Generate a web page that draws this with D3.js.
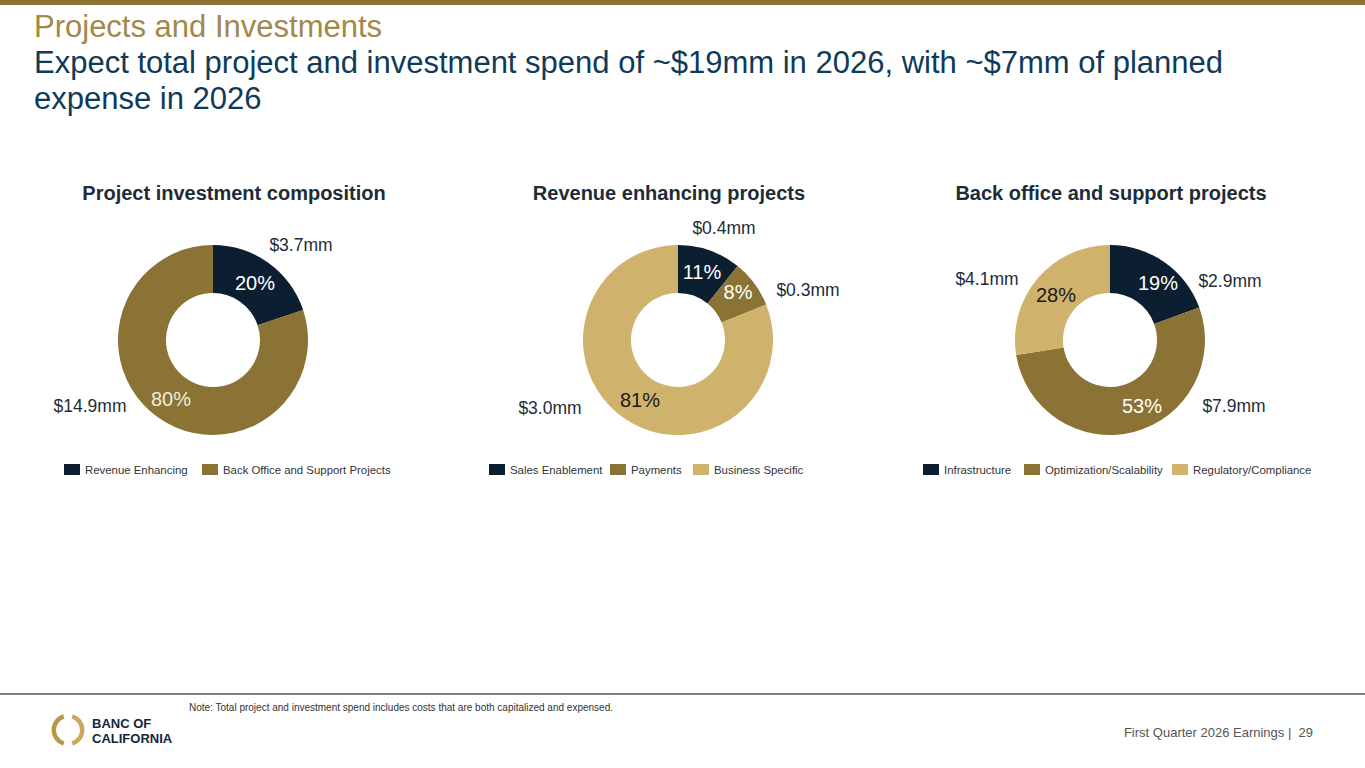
<!DOCTYPE html>
<html>
<head>
<meta charset="utf-8">
<script src="https://cdn.jsdelivr.net/npm/d3@7"></script>
<style>
  body { margin: 0; background: #fff; }
  svg { display: block; font-family: "Liberation Sans", Arial, sans-serif; }
</style>
</head>
<body>
<div class="canvas"></div>
<script>
// chart 1 - overall composition
const compCategories = ['Revenue Enhancing', 'Back Office and Support Projects'];
const compValues = [3.7, 14.9];
const compPct = ['20%', '80%'];

// chart 2 - revenue enhancing
const revCategories = ['Sales Enablement', 'Payments', 'Business Specific'];
const revValues = [0.4, 0.3, 3.0];
const revPct = ['11%', '8%', '81%'];

// chart 3 - back office
const boCategories = ['Infrastructure', 'Optimization/Scalability', 'Regulatory/Compliance'];
const boValues = [2.9, 7.9, 4.1];
const boPct = ['19%', '53%', '28%'];

const navy = '#0b1f30', olive = '#8b7335', tan = '#cfb36d';

const svg = d3.select('.canvas')
    .append('svg')
    .attr('width', 1365)
    .attr('height', 768);

// top bar
svg.append('rect').attr('x', 0).attr('y', 0).attr('width', 1365).attr('height', 5).attr('fill', olive);

svg.append('text').attr('x', 34).attr('y', 37)
    .attr('fill', '#a1884b').style('font-size', '31px')
    .text('Projects and Investments');
svg.append('text').attr('x', 34).attr('y', 73)
    .attr('fill', '#0f3a58').style('font-size', '31px')
    .text('Expect total project and investment spend of ~$19mm in 2026, with ~$7mm of planned');
svg.append('text').attr('x', 34).attr('y', 109)
    .attr('fill', '#0f3a58').style('font-size', '31px')
    .text('expense in 2026');

// one config per donut: center, colors, label positions relative to center
const charts = [
  {
    title: 'Project investment composition', titleX: 234, cx: 213,
    cats: compCategories, vals: compValues, pct: compPct,
    colors: [navy, olive],
    pctColor: ['#fff', '#f3ecda'],
    // label offsets (value labels outside, pct inside)
    valPos: [[88, -95], [-123, 66]],
    pctPos: [[42, -57], [-42, 59]],
    legend: [64, 202]
  },
  {
    title: 'Revenue enhancing projects', titleX: 669, cx: 678,
    cats: revCategories, vals: revValues, pct: revPct,
    colors: [navy, olive, tan],
    pctColor: ['#fff', '#fff', '#1a1a1a'],
    valPos: [[46, -112], [130, -50], [-128, 68]],
    pctPos: [[24, -68], [60, -48], [-38, 60]],
    legend: [489, 610, 693]
  },
  {
    title: 'Back office and support projects', titleX: 1111, cx: 1110,
    cats: boCategories, vals: boValues, pct: boPct,
    colors: [navy, olive, tan],
    pctColor: ['#fff', '#fff', '#1a1a1a'],
    valPos: [[120, -59], [124, 66], [-123, -61]],
    pctPos: [[48, -57], [32, 66], [-54, -45]],
    legend: [923, 1024, 1172]
  }
];

const cy = 340, outerR = 95, innerR = 47;

const pie = d3.pie().sort(null).value(d => d);
const arc = d3.arc().innerRadius(innerR).outerRadius(outerR);

charts.forEach(c => {
  svg.append('text')
      .attr('x', c.titleX).attr('y', 200)
      .attr('text-anchor', 'middle')
      .attr('fill', '#1e2c38')
      .style('font-size', '20px').style('font-weight', 'bold')
      .text(c.title);

  const g = svg.append('g').attr('transform', `translate(${c.cx},${cy})`);

  g.selectAll('path')
      .data(pie(c.vals))
      .enter().append('path')
      .attr('d', arc)
      .attr('fill', (d, i) => c.colors[i]);

  g.selectAll('.pct')
      .data(c.pct)
      .enter().append('text')
      .attr('class', 'pct')
      .attr('x', (d, i) => c.pctPos[i][0])
      .attr('y', (d, i) => c.pctPos[i][1])
      .attr('dy', '0.35em')
      .attr('text-anchor', 'middle')
      .attr('fill', (d, i) => c.pctColor[i])
      .style('font-size', '20px')
      .text(d => d);

  g.selectAll('.val')
      .data(c.vals)
      .enter().append('text')
      .attr('class', 'val')
      .attr('x', (d, i) => c.valPos[i][0])
      .attr('y', (d, i) => c.valPos[i][1])
      .attr('dy', '0.35em')
      .attr('text-anchor', 'middle')
      .attr('fill', '#1e2c38')
      .style('font-size', '17.5px')
      .text(d => `$${d.toFixed(1)}mm`);

  // legend
  const lg = svg.append('g');
  c.cats.forEach((name, i) => {
    const x = c.legend[i];
    lg.append('rect').attr('x', x).attr('y', 464).attr('width', 16).attr('height', 11)
        .attr('fill', c.colors[i]);
    lg.append('text').attr('x', x + 21).attr('y', 474)
        .attr('fill', '#333').style('font-size', '11.4px')
        .text(name);
  });
});

// footer
svg.append('line').attr('x1', 0).attr('x2', 1365).attr('y1', 694).attr('y2', 694)
    .attr('stroke', '#4b5358').attr('stroke-width', 1.5);
svg.append('text').attr('x', 189).attr('y', 711)
    .attr('fill', '#333').style('font-size', '10px')
    .text('Note: Total project and investment spend includes costs that are both capitalized and expensed.');
svg.append('text').attr('x', 1313).attr('y', 737)
    .attr('text-anchor', 'end')
    .attr('fill', '#555').style('font-size', '13px')
    .style('white-space', 'pre')
    .text('First Quarter 2026 Earnings |  29');

// logo ring: two gold arcs
const logo = svg.append('g').attr('transform', 'translate(68,730)');
const ringArc = d3.arc().innerRadius(12).outerRadius(16.5);
logo.append('path').attr('d', ringArc({ startAngle: 0.3, endAngle: Math.PI - 0.3 })).attr('fill', '#caa95c');
logo.append('path').attr('d', ringArc({ startAngle: Math.PI + 0.3, endAngle: 2 * Math.PI - 0.3 })).attr('fill', '#b8974a');
svg.append('text').attr('x', 92).attr('y', 728)
    .attr('fill', '#13263a').style('font-size', '13px').style('font-weight', 'bold')
    .text('BANC OF');
svg.append('text').attr('x', 92).attr('y', 743)
    .attr('fill', '#13263a').style('font-size', '13px').style('font-weight', 'bold')
    .text('CALIFORNIA');
</script>
</body>
</html>
